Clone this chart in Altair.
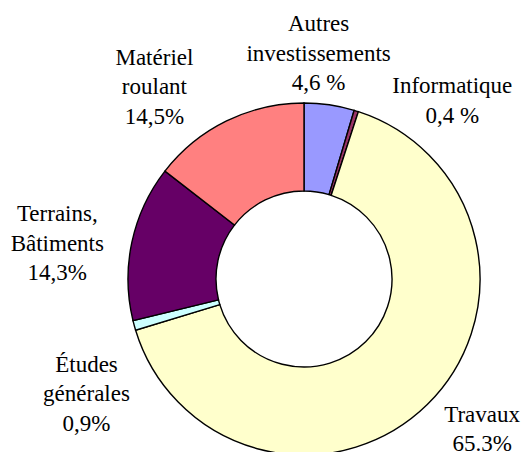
import altair as alt
import pandas as pd

categories = ["Autres investissements", "Informatique", "Travaux",
              "Études générales", "Terrains, Bâtiments", "Matériel roulant"]
values = [4.6, 0.4, 65.3, 0.9, 14.3, 14.5]
label_lines = [
    ["Autres", "investissements", "4,6 %"],
    ["Informatique", "0,4 %"],
    ["Travaux", "65.3%"],
    ["Études", "générales", "0,9%"],
    ["Terrains,", "Bâtiments", "14,3%"],
    ["Matériel", "roulant", "14,5%"],
]
colors = ["#9999FF", "#993366", "#FFFFCC", "#CCFFFF", "#660066", "#FF8080"]

LH = 29.5
# label offsets (style) relative to mid-angle anchor
offsets = [(-20, 12), (77, 51), (10, -21), (14, 52), (-12, 15), (-44, 24)]

df = pd.DataFrame({
    "cat": categories,
    "value": values,
    "ord": list(range(len(categories))),
    "label": label_lines,
})

base = alt.Chart(df)

color_scale = alt.Scale(domain=categories, range=colors)

arcs = base.mark_arc(outerRadius=176, innerRadius=88, stroke="black",
                     strokeWidth=1.4).encode(
    theta=alt.Theta("value:Q", stack=True),
    order=alt.Order("ord:Q"),
    color=alt.Color("cat:N", scale=color_scale, legend=None),
)

layers = [arcs]
for cat, lines, (dx, dy) in zip(categories, label_lines, offsets):
    shift = (len(lines) - 1) * LH / 2
    t = base.mark_text(font="Liberation Serif", fontSize=23, lineHeight=LH,
                       align="center", baseline="middle", color="black",
                       dx=dx, dy=dy - shift).encode(
        theta=alt.Theta("value:Q", stack=True),
        order=alt.Order("ord:Q"),
        radius=alt.value(240),
        text="label",
        opacity=alt.condition(alt.datum.cat == cat, alt.value(1), alt.value(0)),
    )
    layers.append(t)

chart = alt.layer(*layers).properties(
    width=442, height=346,
    autosize=alt.AutoSizeParams(type="none"),
    padding={"left": 83, "top": 106, "right": 0, "bottom": 0},
).configure_view(stroke=None)

chart.save("out.html", embed_options={"renderer": "svg", "actions": False})
